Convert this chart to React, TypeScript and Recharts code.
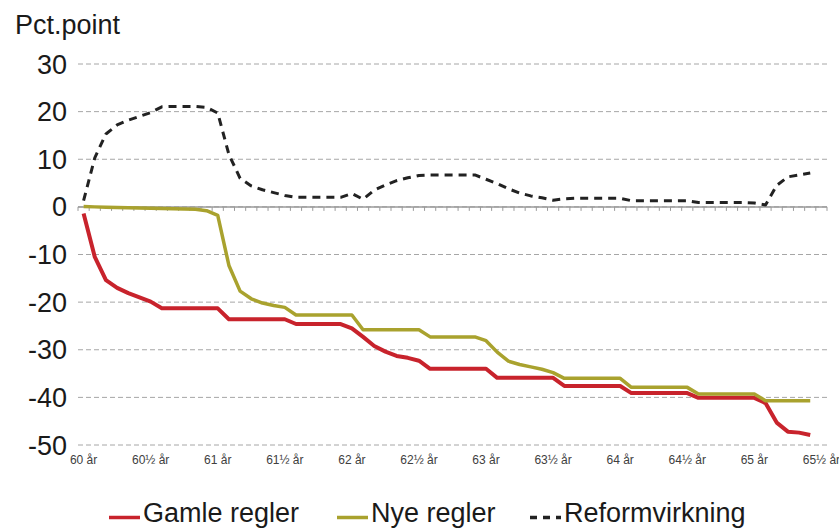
import { LineChart, Line, XAxis, YAxis, CartesianGrid, ReferenceLine } from "recharts";

// months since 60 år (one category per month)
const MONTHS = Array.from({ length: 67 }, (_, i) => i);

const TICK_LABELS = [
  "60 år", "60½ år", "61 år", "61½ år", "62 år", "62½ år",
  "63 år", "63½ år", "64 år", "64½ år", "65 år", "65½ år",
];

const Y_TICKS = [-50, -40, -30, -20, -10, 0, 10, 20, 30];

const GAMLE = [
  -1.4, -10.5, -15.4, -17.0, -18.1, -19.0, -19.9, -21.3, -21.3, -21.3, -21.3, -21.3,
  -21.3, -23.6, -23.6, -23.6, -23.6, -23.6, -23.6, -24.6, -24.6, -24.6, -24.6, -24.6,
  -25.5, -27.3, -29.2, -30.4, -31.3, -31.7, -32.3, -34.0, -34.0, -34.0, -34.0, -34.0,
  -34.0, -35.9, -35.9, -35.9, -35.9, -35.9, -35.9, -37.6, -37.6, -37.6, -37.6, -37.6,
  -37.6, -39.1, -39.1, -39.1, -39.1, -39.1, -39.1, -40.1, -40.1, -40.1, -40.1, -40.1,
  -40.1, -41.2, -45.3, -47.2, -47.4, -47.9, null,
];

const NYE = [
  0.1, 0.0, -0.1, -0.15, -0.2, -0.25, -0.3, -0.35, -0.4, -0.45, -0.5, -0.8,
  -1.8, -12.3, -17.7, -19.3, -20.2, -20.7, -21.1, -22.7, -22.7, -22.7, -22.7, -22.7,
  -22.7, -25.8, -25.8, -25.8, -25.8, -25.8, -25.8, -27.3, -27.3, -27.3, -27.3, -27.3,
  -28.1, -30.5, -32.4, -33.1, -33.6, -34.1, -34.8, -36.0, -36.0, -36.0, -36.0, -36.0,
  -36.0, -37.9, -37.9, -37.9, -37.9, -37.9, -37.9, -39.3, -39.3, -39.3, -39.3, -39.3,
  -39.3, -40.7, -40.7, -40.7, -40.7, -40.7, null,
];

const REFORM = [
  1.3, 10.3, 15.3, 17.2, 18.2, 19.0, 19.8, 21.0, 21.1, 21.1, 21.1, 20.9,
  19.7, 11.0, 6.0, 4.4, 3.6, 3.0, 2.4, 2.0, 2.0, 2.0, 2.0, 2.0,
  2.8, 1.6, 3.5, 4.6, 5.5, 6.1, 6.6, 6.7, 6.7, 6.7, 6.7, 6.7,
  5.8, 4.9, 3.8, 2.9, 2.3, 1.9, 1.4, 1.7, 1.8, 1.8, 1.8, 1.8,
  1.8, 1.3, 1.3, 1.3, 1.3, 1.3, 1.3, 0.9, 0.9, 0.9, 0.9, 0.9,
  0.8, 0.4, 4.5, 6.3, 6.7, 7.1, null,
];

const RED = "#c8232c";
const OLIVE = "#a9a22e";
const DASH = "#222222";

const data = MONTHS.map((m, i) => ({
  m,
  gamle: GAMLE[i],
  nye: NYE[i],
  reform: REFORM[i],
}));

const FONT = "'Liberation Sans', Arial, sans-serif";
const PLOT_LEFT = 78;
const PLOT_RIGHT = 827;
const HALF_STEP = (PLOT_RIGHT - PLOT_LEFT) / MONTHS.length / 2;

// zero line with small tick marks between the months
function ZeroAxis(props: any) {
  const { x1, x2, y1 } = props;
  const left = Math.min(x1, x2);
  const right = Math.max(x1, x2);
  const step = (right - left) / MONTHS.length;
  const marks = [];
  for (let k = 0; k <= MONTHS.length; k++) {
    const x = left + k * step;
    marks.push(<line key={k} x1={x} x2={x} y1={y1} y2={y1 + 4} stroke="#9a9a9a" strokeWidth={1} />);
  }
  return (
    <g>
      <line x1={left} x2={right} y1={y1} y2={y1} stroke="#9a9a9a" strokeWidth={1.5} />
      {marks}
    </g>
  );
}

const legendItems = [
  { name: "Gamle regler", color: RED, dash: undefined, left: 109 },
  { name: "Nye regler", color: OLIVE, dash: undefined, left: 337 },
  { name: "Reformvirkning", color: DASH, dash: "7 6", left: 530 },
];

export default function App() {
  return (
    <div style={{ position: "relative", width: 839, height: 531, fontFamily: FONT, background: "#fff" }}>
      <style>{"body{margin:0}"}</style>
      <div style={{ position: "absolute", left: 15, top: 12, fontSize: 27, lineHeight: "27px", color: "#1a1a1a" }}>
        Pct.point
      </div>
      <LineChart width={839} height={531} data={data} margin={{ top: 64, right: 839 - PLOT_RIGHT, bottom: 56, left: 0 }}>
        <CartesianGrid vertical={false} stroke="#a6a6a6" strokeDasharray="5 3" />
        <XAxis
          dataKey="m"
          interval={5}
          height={30}
          padding={{ left: HALF_STEP, right: HALF_STEP }}
          axisLine={false}
          tickLine={false}
          tickMargin={4}
          tickFormatter={(m: number) => TICK_LABELS[m / 6] ?? ""}
          tick={{ fontSize: 12, fill: "#404040", fontFamily: "'Liberation Sans Narrow', 'Liberation Sans', Arial" }}
        />
        <YAxis
          width={PLOT_LEFT}
          domain={[-50, 30]}
          ticks={Y_TICKS}
          axisLine={false}
          tickLine={false}
          tickMargin={5}
          tick={{ fontSize: 27, fill: "#1a1a1a", fontFamily: FONT }}
        />
        <ReferenceLine y={0} shape={ZeroAxis} />
        <Line type="linear" dataKey="gamle" stroke={RED} strokeWidth={4} dot={false} activeDot={false} isAnimationActive={false} strokeLinejoin="round" />
        <Line type="linear" dataKey="nye" stroke={OLIVE} strokeWidth={3.5} dot={false} activeDot={false} isAnimationActive={false} strokeLinejoin="round" />
        <Line type="linear" dataKey="reform" stroke={DASH} strokeWidth={3} strokeDasharray="8 6" dot={false} activeDot={false} isAnimationActive={false} strokeLinejoin="round" />
      </LineChart>
      {legendItems.map((item) => (
        <div
          key={item.name}
          style={{
            position: "absolute",
            left: item.left,
            top: 500,
            display: "flex",
            alignItems: "flex-start",
            fontSize: 27,
            lineHeight: "27px",
            color: "#1a1a1a",
            whiteSpace: "nowrap",
          }}
        >
          <svg width={32} height={27} style={{ display: "block" }}>
            <line x1={0} x2={31} y1={17.5} y2={17.5} stroke={item.color} strokeWidth={3.5} strokeDasharray={item.dash} />
          </svg>
          <span style={{ marginLeft: 2 }}>{item.name}</span>
        </div>
      ))}
    </div>
  );
}
